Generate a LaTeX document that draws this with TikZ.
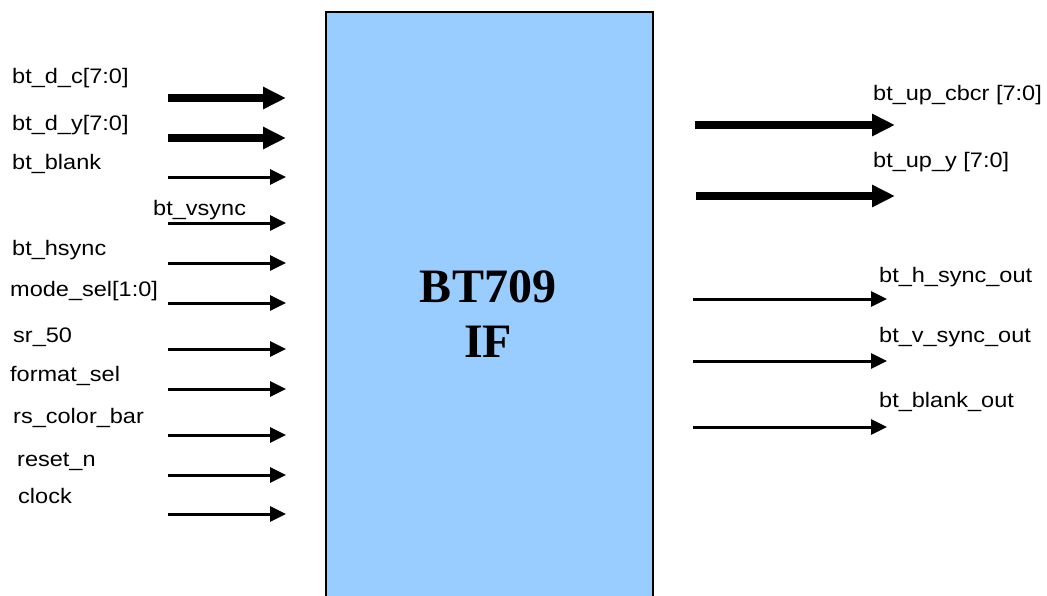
\documentclass[tikz,border=0pt]{standalone}
\usepackage{fontspec}
\newfontfamily\lblfont[FakeStretch=1.12]{Liberation Sans}
\newfontfamily\titlefont{Liberation Serif}
\usepackage{xcolor}
\definecolor{blockBlue}{HTML}{99CCFF}
\usepackage{tikz}
\usetikzlibrary{
    arrows.meta,
    positioning
}
\tikzset{
    % Interface block - light blue rectangle
    block/.style={
        draw=black,
        line width=2pt,
        fill=blockBlue,
        rectangle,
        anchor=north west,
        inner sep=0pt,
    },
    % Block title - big bold serif
    block title/.style={
        font=\titlefont\bfseries\fontsize{48}{55}\selectfont,
        align=center,
        inner sep=0pt,
    },
    % Signal names
    sig label/.style={
        font=\lblfont\fontsize{21}{24}\selectfont,
        anchor=west,
        inner sep=0pt,
    },
    % Bus arrow - thick
    bus arrow/.style={
        -{Triangle[length=23pt, width=21pt]},
        line width=8pt,
    },
    % Single wire arrow - thin
    wire arrow/.style={
        -{Triangle[length=16pt, width=15pt]},
        line width=3pt,
    },
}

\begin{document}
\begin{tikzpicture}[x=1pt, y=-1pt]
    \clip (0,0) rectangle (1047,595);
    \fill[white] (0,0) rectangle (1047,595);

    \node (bt) [block, minimum width=327pt, minimum height=620pt] at (325,11) {};
    \node (title) [block title] at (488,314) {BT709\\IF};

    % inputs
    \node (dc) [sig label] at (12,78) {bt\_d\_c[7:0]};
    \node (dy) [sig label] at (12,125) {bt\_d\_y[7:0]};
    \node (blank) [sig label] at (12,164) {bt\_blank};
    \node (vsync) [sig label] at (153,210) {bt\_vsync};
    \node (hsync) [sig label] at (12,250) {bt\_hsync};
    \node (mode) [sig label] at (10,291) {mode\_sel[1:0]};
    \node (sr) [sig label] at (13,337) {sr\_50};
    \node (fmt) [sig label] at (10,376) {format\_sel};
    \node (rs) [sig label] at (13,418) {rs\_color\_bar};
    \node (rst) [sig label] at (17,462) {reset\_n};
    \node (clk) [sig label] at (18,496) {clock};

    \coordinate (dc in) at (168,98);      \coordinate (dc out) at (286,98);
    \coordinate (dy in) at (168,138);     \coordinate (dy out) at (286,138);
    \coordinate (blank in) at (168,177);  \coordinate (blank out) at (286,177);
    \coordinate (vsync in) at (168,223);  \coordinate (vsync out) at (286,223);
    \coordinate (hsync in) at (168,263);  \coordinate (hsync out) at (286,263);
    \coordinate (mode in) at (168,303);   \coordinate (mode out) at (286,303);
    \coordinate (sr in) at (168,349);     \coordinate (sr out) at (286,349);
    \coordinate (fmt in) at (168,389);    \coordinate (fmt out) at (286,389);
    \coordinate (rs in) at (168,435);     \coordinate (rs out) at (286,435);
    \coordinate (rst in) at (168,475);    \coordinate (rst out) at (286,475);
    \coordinate (clk in) at (168,514);    \coordinate (clk out) at (286,514);

    \draw [bus arrow] (dc in) -- (dc out);
    \draw [bus arrow] (dy in) -- (dy out);
    \draw [wire arrow] (blank in) -- (blank out);
    \draw [wire arrow] (vsync in) -- (vsync out);
    \draw [wire arrow] (hsync in) -- (hsync out);
    \draw [wire arrow] (mode in) -- (mode out);
    \draw [wire arrow] (sr in) -- (sr out);
    \draw [wire arrow] (fmt in) -- (fmt out);
    \draw [wire arrow] (rs in) -- (rs out);
    \draw [wire arrow] (rst in) -- (rst out);
    \draw [wire arrow] (clk in) -- (clk out);

    % outputs
    \node (cbcr) [sig label] at (873,95) {bt\_up\_cbcr [7:0]};
    \node (upy) [sig label] at (873,162) {bt\_up\_y [7:0]};
    \node (hout) [sig label] at (879,277) {bt\_h\_sync\_out};
    \node (vout) [sig label] at (879,337) {bt\_v\_sync\_out};
    \node (bout) [sig label] at (879,402) {bt\_blank\_out};

    \coordinate (cbcr in) at (695,125);  \coordinate (cbcr out) at (895,125);
    \coordinate (upy in) at (696,196);   \coordinate (upy out) at (895,196);
    \coordinate (hout in) at (693,299);  \coordinate (hout out) at (887,299);
    \coordinate (vout in) at (693,361);  \coordinate (vout out) at (887,361);
    \coordinate (bout in) at (693,427);  \coordinate (bout out) at (887,427);

    \draw [bus arrow] (cbcr in) -- (cbcr out);
    \draw [bus arrow] (upy in) -- (upy out);
    \draw [wire arrow] (hout in) -- (hout out);
    \draw [wire arrow] (vout in) -- (vout out);
    \draw [wire arrow] (bout in) -- (bout out);
\end{tikzpicture}
\end{document}
